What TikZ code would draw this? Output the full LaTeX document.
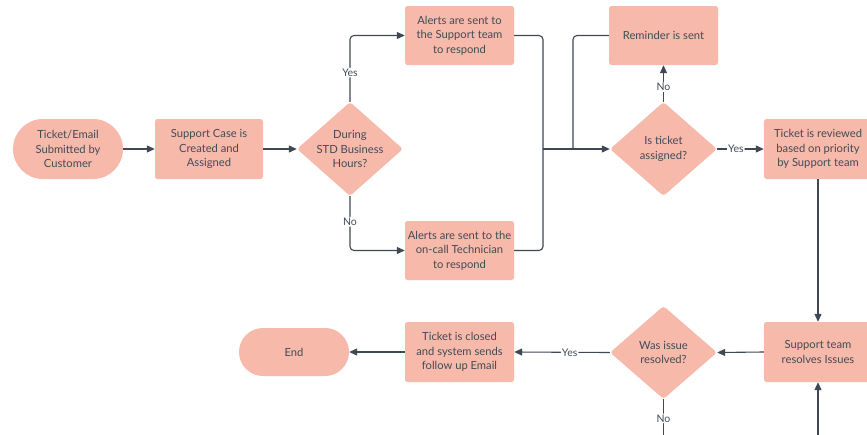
\documentclass[tikz,border=0pt]{standalone}
\usepackage{fontspec}
\setmainfont{Lato}
\usetikzlibrary{arrows.meta,shapes.geometric}
\definecolor{boxfill}{HTML}{F6B9AA}
\definecolor{txtc}{HTML}{434B57}
\definecolor{linec}{HTML}{3F4853}
\begin{document}
\begin{tikzpicture}[x=1pt,y=-1pt,
  every node/.style={font=\fontsize{11.2}{14.6}\selectfont, text=txtc},
  procbox/.style={rectangle, fill=boxfill, rounded corners=2.5pt, minimum width=109pt, minimum height=59pt, inner sep=0pt, align=center},
  termbox/.style={rectangle, fill=boxfill, minimum width=110pt, inner sep=0pt, align=center},
  decbox/.style={diamond, fill=boxfill, rounded corners=3pt, inner sep=0pt, minimum width=107pt, minimum height=94pt},
  dectxt/.style={align=center, font=\fontsize{11.2}{14.6}\selectfont, text=txtc},
  conn/.style={draw=linec, line width=1.1pt, rounded corners=4pt},
  arr/.style={conn, -{Triangle[length=8pt,width=7pt]}},
  lab/.style={fill=white, inner sep=1pt, font=\fontsize{10.5}{12}\selectfont, text=txtc}
]
\useasboundingbox (0,0) rectangle (867,434);
\fill[white] (0,0) rectangle (867,434);

% nodes
\node[termbox, minimum height=60pt, rounded corners=30pt] (s) at (68,149) {Ticket/Email\\Submitted by\\Customer};
\node[procbox, minimum width=108pt, minimum height=60pt] (c) at (209,149) {Support Case is\\Created and\\Assigned};
\node[decbox, minimum width=106pt, label={[dectxt]center:During\\STD Business\\Hours?}] (d1) at (350,149) {};
\node[procbox] (a1) at (459.5,35.5) {Alerts are sent to\\the Support team\\to respond};
\node[procbox] (a2) at (459.5,250.5) {Alerts are sent to the\\on-call Technician\\to respond};
\node[procbox] (r) at (663.5,35.5) {Reminder is sent};
\node[decbox, label={[dectxt]center:Is ticket\\assigned?}] (d2) at (663.5,149) {};
\node[procbox, minimum width=108pt, minimum height=60pt] (rev) at (818,149) {Ticket is reviewed\\based on priority\\by Support team};
\node[procbox, minimum width=108pt, minimum height=60pt] (res) at (818,352) {Support team\\resolves Issues};
\node[decbox, minimum height=93pt, label={[dectxt]center:Was issue\\resolved?}] (d3) at (663.5,352.5) {};
\node[procbox, minimum height=60pt] (cl) at (459.5,352) {Ticket is closed\\and system sends\\follow up Email};
\node[termbox, minimum height=48pt, rounded corners=24pt] (e) at (294,352) {End};

\coordinate (j) at (543,149);
\coordinate (k) at (573,149);
\coordinate (bot1) at (818,445);
\coordinate (bot2) at (663.5,445);

% connectors
\draw[arr] (s) -- (c);
\draw[arr] (c) -- (d1);
\draw[arr] (d1.north) |- node[lab, pos=0.22] {Yes} (a1.west);
\draw[arr] (d1.south) |- node[lab, pos=0.235] {No} (a2.west);
\draw[conn] (a1.east) -| (j);
\draw[conn] (a2.east) -| (j);
\draw[conn] (r.west) -| (k);
\draw[arr, rounded corners=0pt] (j) -- (d2.west);
\draw[arr] (d2.north) -- node[lab, pos=0.4] {No} (r.south);
\draw[arr] (d2.east) -- node[lab, pos=0.4] {Yes} (rev.west);
\draw[arr] (rev.south) -- (res.north);
\draw[arr] (bot1) -- (res.south);
\draw[arr] (res.west) -- (d3.east);
\draw[arr] (d3.west) -- node[lab, pos=0.42] {Yes} (cl.east);
\draw[conn] (d3.south) -- node[lab, pos=0.42] {No} (bot2);
\draw[arr] (cl.west) -- (e.east);
\end{tikzpicture}
\end{document}
